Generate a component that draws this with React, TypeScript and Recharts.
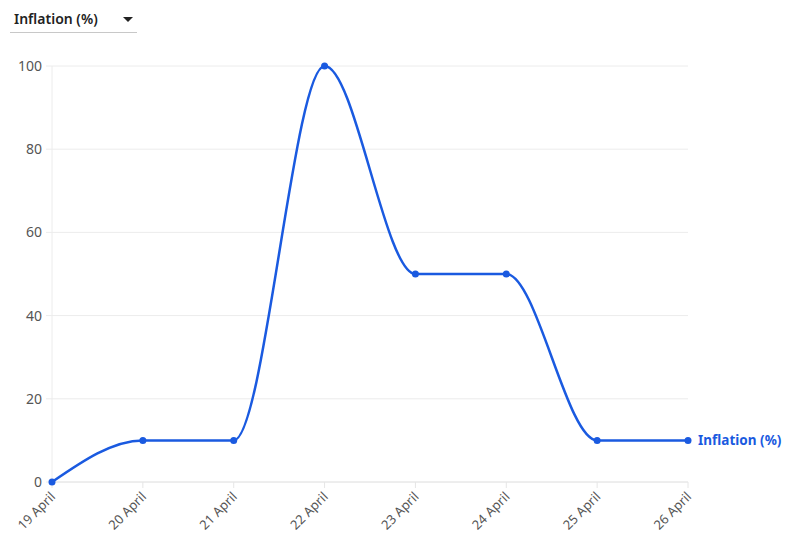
import React from "react";
import { LineChart, Line, XAxis, YAxis, CartesianGrid } from "recharts";

const days = ["19 April", "20 April", "21 April", "22 April", "23 April", "24 April", "25 April", "26 April"];
const inflation = [0, 10, 10, 100, 50, 50, 10, 10];
const yTicks = [0, 20, 40, 60, 80, 100];
const seriesName = "Inflation (%)";

const BLUE = "#1a5ae0";
const FONT = "'Noto Sans', 'Open Sans', sans-serif";

const data = days.map((d, i) => ({ day: d, value: inflation[i] }));

function XTick(props: any) {
  const { x, y, payload } = props;
  return (
    <g transform={`translate(${x},${y + 6})`}>
      <text
        transform="rotate(-45)"
        textAnchor="end"
        dy={4}
        dx={2}
        fontSize={13}
        fill="#555"
        fontFamily={FONT}
      >
        {payload.value}
      </text>
    </g>
  );
}

function EndLabel(props: any) {
  const { x, y, index } = props;
  if (index !== inflation.length - 1) return null;
  return (
    <text x={x + 10} y={y + 5} fontSize={13.5} fontWeight={700} fill={BLUE} fontFamily={FONT}>
      {seriesName}
    </text>
  );
}

export default function App() {
  return (
    <div style={{ position: "absolute", left: 0, top: 0, width: 786, height: 545, background: "#fff", fontFamily: FONT }}>
      <div
        style={{
          position: "absolute",
          left: 10,
          top: 8,
          width: 127,
          height: 24,
          borderBottom: "1px solid #c8c8c8",
        }}
      >
        <span style={{ position: "absolute", left: 4, top: 1, fontSize: 14, fontWeight: 600, color: "#222" }}>
          {seriesName}
        </span>
        <svg width={10} height={6} style={{ position: "absolute", left: 113, top: 9 }}>
          <polygon points="0,0 10,0 5,5" fill="#222" />
        </svg>
      </div>
      <LineChart
        width={786}
        height={545}
        data={data}
        margin={{ top: 66, right: 98, bottom: 3, left: 0 }}
      >
        <CartesianGrid vertical={false} stroke="#ececec" />
        <XAxis
          dataKey="day"
          height={60}
          interval={0}
          tick={<XTick />}
          axisLine={{ stroke: "#e6e6e6" }}
          tickLine={{ stroke: "#e6e6e6" }}
          tickSize={6}
        />
        <YAxis
          width={52}
          domain={[0, 100]}
          ticks={yTicks}
          axisLine={{ stroke: "#ececec" }}
          tickLine={{ stroke: "#ececec" }}
          tickSize={6}
          tickMargin={4}
          tick={{ fontSize: 14, fill: "#555", fontFamily: FONT }}
        />
        <Line
          type="monotone"
          dataKey="value"
          stroke={BLUE}
          strokeWidth={2.5}
          dot={{ r: 3.5, fill: BLUE, stroke: BLUE, strokeWidth: 0 }}
          activeDot={false}
          isAnimationActive={false}
          label={<EndLabel />}
        />
      </LineChart>
    </div>
  );
}
